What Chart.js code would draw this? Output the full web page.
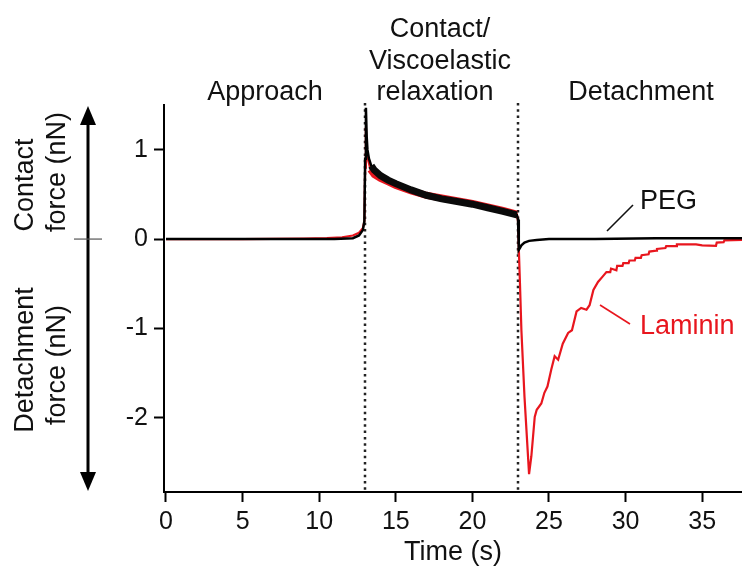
<!DOCTYPE html>
<html>
<head>
<meta charset="utf-8">
<script src="https://cdn.jsdelivr.net/npm/chart.js@4.4.1/dist/chart.umd.min.js"></script>
<style>
  html, body { margin: 0; padding: 0; background: #fff; }
  canvas { display: block; }
</style>
</head>
<body>
<canvas id="c" width="742" height="572"></canvas>
<script>
// ---- data ----
const xTicks = [0, 5, 10, 15, 20, 25, 30, 35];
const yTicks = [-2, -1, 0, 1];
const yTickLabels = ['-2', '-1', '0', '1'];
const phaseBoundaries = [13, 23];
const phaseLabels = ['Approach', 'Contact/\nViscoelastic\nrelaxation', 'Detachment'];

const pegTime  = [0, 4, 8, 11, 12.2, 12.6, 12.85, 12.95, 13.0, 13.05, 13.1, 13.15, 13.25, 13.4, 13.6, 14.0, 14.5, 15.0, 16.0, 17.0, 18.0, 19.0, 20.0, 21.0, 22.0, 22.9, 22.98, 23.03, 23.1, 23.2, 23.4, 23.7, 24.2, 25, 28, 32, 37.6];
const pegForce = [0, 0, 0, 0, 0.01, 0.04, 0.1, 0.2, 0.9, 1.47, 1.15, 1.0, 0.9, 0.82, 0.77, 0.71, 0.66, 0.62, 0.55, 0.49, 0.45, 0.42, 0.39, 0.35, 0.31, 0.27, 0.22, -0.12, -0.1, -0.07, -0.04, -0.02, -0.01, 0, 0, 0.01, 0.01];

const lamTime  = [0, 5, 9, 10.5, 11.5, 12.2, 12.6, 12.85, 12.95, 13.0, 13.05, 13.1, 13.2, 13.35, 13.6, 14.0, 14.5, 15, 16, 17, 18, 19, 20, 21, 22, 22.9, 22.98, 23.03, 23.1, 23.2, 23.4, 23.7, 23.85, 24.07, 24.2, 24.5, 24.7, 24.9, 25.15, 25.37, 25.6, 25.9, 26.25, 26.5, 26.8, 27.1, 27.45, 27.65, 27.9, 28.2, 28.5, 28.75, 29.0, 29.05, 29.4, 29.45, 29.8, 29.85, 30.2, 30.25, 30.6, 30.65, 31.0, 31.05, 31.5, 31.55, 32.0, 32.05, 32.6, 32.65, 33.3, 33.35, 34.6, 35.0, 35.9, 35.95, 36.4, 36.45, 37.6];
const lamForce = [0, 0, 0.005, 0.01, 0.02, 0.04, 0.07, 0.12, 0.2, 0.8, 1.25, 1.0, 0.88, 0.78, 0.72, 0.68, 0.64, 0.6, 0.54, 0.49, 0.46, 0.43, 0.4, 0.36, 0.32, 0.28, 0.2, -0.1, -0.46, -1.02, -1.76, -2.63, -2.43, -1.99, -1.91, -1.84, -1.72, -1.65, -1.46, -1.31, -1.35, -1.17, -1.05, -1.02, -0.81, -0.77, -0.79, -0.74, -0.57, -0.48, -0.42, -0.37, -0.37, -0.33, -0.35, -0.3, -0.3, -0.27, -0.27, -0.24, -0.24, -0.21, -0.21, -0.18, -0.17, -0.14, -0.13, -0.11, -0.1, -0.08, -0.08, -0.06, -0.06, -0.07, -0.075, -0.04, -0.035, -0.015, -0.01];

const contactStart = 13.3, contactEnd = 22.95;

// ---- build library data ----
const toPts = (t, f) => t.map((v, i) => ({ x: v, y: f[i] }));
const inContact = p => p.x >= contactStart && p.x <= contactEnd;
const pegPts = toPts(pegTime, pegForce);
const lamPts = toPts(lamTime, lamForce);

const FONT = '"Liberation Sans", Arial, Helvetica, sans-serif';
const RED = '#e8161e';

const decor = {
  id: 'decor',
  beforeDraw(chart) {
    const ctx = chart.ctx;
    ctx.save();
    ctx.fillStyle = '#fff';
    ctx.fillRect(0, 0, chart.width, chart.height);
    ctx.restore();
  },
  beforeDatasetsDraw(chart) {
    const ctx = chart.ctx, xs = chart.scales.x, a = chart.chartArea;
    ctx.save();
    ctx.strokeStyle = '#222';
    ctx.lineWidth = 2.5;
    ctx.setLineDash([2.5, 3.8]);
    phaseBoundaries.forEach(t => {
      const px = Math.round(xs.getPixelForValue(t));
      ctx.beginPath();
      ctx.moveTo(px, a.top - 2);
      ctx.lineTo(px, a.bottom);
      ctx.stroke();
    });
    ctx.restore();
  },
  afterDraw(chart) {
    const ctx = chart.ctx;
    ctx.save();
    ctx.font = '27px ' + FONT;
    ctx.fillStyle = '#111';
    ctx.textAlign = 'center';
    ctx.textBaseline = 'alphabetic';
    // phase headers
    ctx.fillText(phaseLabels[0], 265, 100);
    const mid = phaseLabels[1].split('\n');
    ctx.fillText(mid[0], 440, 37);
    ctx.fillText(mid[1], 440, 69);
    ctx.fillText(mid[2], 435, 100);
    ctx.fillText(phaseLabels[2], 641, 100);

    // series labels
    ctx.textAlign = 'left';
    ctx.fillText('PEG', 640, 209);
    ctx.fillStyle = RED;
    ctx.fillText('Laminin', 640, 334);
    ctx.lineWidth = 1.6;
    ctx.strokeStyle = '#111';
    ctx.beginPath(); ctx.moveTo(607, 231); ctx.lineTo(633, 205); ctx.stroke();
    ctx.strokeStyle = RED;
    ctx.beginPath(); ctx.moveTo(600, 305); ctx.lineTo(630, 324); ctx.stroke();

    // left double arrow
    ctx.strokeStyle = '#000';
    ctx.fillStyle = '#000';
    ctx.lineWidth = 3;
    ctx.beginPath(); ctx.moveTo(88, 120); ctx.lineTo(88, 476); ctx.stroke();
    ctx.beginPath(); ctx.moveTo(88, 106); ctx.lineTo(80, 125); ctx.lineTo(96, 125); ctx.closePath(); ctx.fill();
    ctx.beginPath(); ctx.moveTo(88, 491); ctx.lineTo(80, 472); ctx.lineTo(96, 472); ctx.closePath(); ctx.fill();
    const y0 = chart.scales.y.getPixelForValue(0);
    ctx.strokeStyle = '#555';
    ctx.lineWidth = 1.2;
    ctx.beginPath(); ctx.moveTo(74, y0); ctx.lineTo(102, y0); ctx.stroke();

    // rotated axis labels
    ctx.fillStyle = '#111';
    ctx.textAlign = 'center';
    ctx.textBaseline = 'middle';
    const rot = (txt, x, y) => {
      ctx.save(); ctx.translate(x, y); ctx.rotate(-Math.PI / 2); ctx.fillText(txt, 0, 0); ctx.restore();
    };
    rot('Contact', 26, 185);
    rot('force (nN)', 58, 172);
    rot('Detachment', 26, 360);
    rot('force (nN)', 58, 365);
    ctx.restore();
  }
};

new Chart(document.getElementById('c'), {
  type: 'line',
  data: {
    datasets: [
      { label: 'Laminin', data: lamPts, borderColor: RED, borderWidth: 2.2, pointRadius: 0, tension: 0, order: 4 },
      { label: 'Laminin noise', data: lamPts.filter(inContact), borderColor: RED, borderWidth: 7, pointRadius: 0, tension: 0, order: 3 },
      { label: 'PEG', data: pegPts, borderColor: '#000', borderWidth: 2.5, pointRadius: 0, tension: 0, order: 2 },
      { label: 'PEG noise', data: pegPts.filter(inContact), borderColor: '#0a0a0a', borderWidth: 7, pointRadius: 0, tension: 0, order: 1 }
    ]
  },
  options: {
    responsive: false,
    animation: false,
    devicePixelRatio: 1,
    layout: { padding: { top: 105, left: 0, right: 0, bottom: 0 } },
    plugins: { legend: { display: false }, tooltip: { enabled: false } },
    scales: {
      x: {
        type: 'linear', position: 'bottom', min: -0.13, max: 37.6,
        afterFit: s => { s.height = 80; },
        afterBuildTicks: s => { s.ticks = xTicks.map(v => ({ value: v })); },
        ticks: { color: '#111', font: { family: FONT, size: 25 }, padding: 5, maxRotation: 0, autoSkip: false },
        grid: { drawOnChartArea: false, drawTicks: true, tickLength: 10, tickWidth: 2, color: '#000' },
        border: { display: true, color: '#000', width: 2 },
        title: { display: true, text: 'Time (s)', color: '#111', font: { family: FONT, size: 27 }, padding: { top: 0, bottom: 3 } }
      },
      y: {
        type: 'linear', position: 'left', min: -2.83, max: 1.5,
        afterFit: s => { s.width = 164; },
        afterBuildTicks: s => { s.ticks = yTicks.map(v => ({ value: v })); },
        ticks: { color: '#111', font: { family: FONT, size: 25 }, padding: 6, autoSkip: false,
                 callback: (v) => yTickLabels[yTicks.indexOf(v)] },
        grid: { drawOnChartArea: false, drawTicks: true, tickLength: 10, tickWidth: 2, color: '#000' },
        border: { display: true, color: '#000', width: 2 }
      }
    }
  },
  plugins: [decor]
});
</script>
</body>
</html>
